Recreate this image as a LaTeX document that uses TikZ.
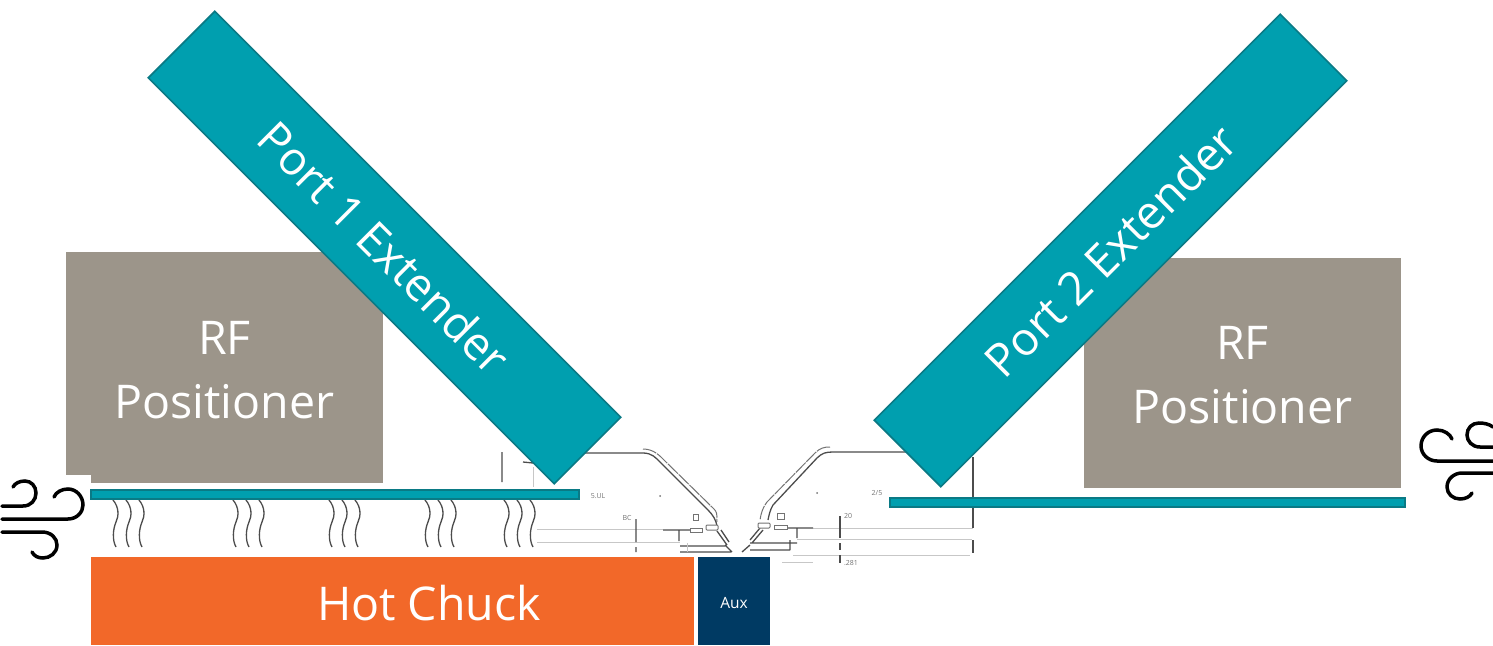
\documentclass[tikz,border=0pt]{standalone}
\usepackage{fontspec}
\setmainfont{Open Sans}
\definecolor{teal1}{HTML}{009FAF}
\definecolor{teal2}{HTML}{0A7A85}
\definecolor{stone}{HTML}{9C958A}
\definecolor{hot}{HTML}{F26829}
\definecolor{navy1}{HTML}{003A63}
\tikzset{
  extender/.style={draw=teal2,line width=1.6pt,fill=teal1,text=white,inner sep=0pt,minimum height=94pt,minimum width=574pt,font=\fontsize{46}{50}\selectfont},
  positioner/.style={fill=stone,inner sep=0pt},
  positionertext/.style={text=white,inner sep=0pt,align=center,font=\fontsize{46.5}{64}\selectfont},
  bar/.style={draw=teal2,line width=2pt,fill=teal1},
  windline/.style={line width=3.5pt,line cap=round,black},
  heat/.style={line width=1.3pt,black!70},
  dark/.style={line width=1.3pt,black!70},
  thin/.style={line width=.9pt,black!22},
  mid/.style={line width=1pt,black!55},
  tiny/.style={font=\fontsize{7}{8}\selectfont,text=black!55,inner sep=0pt}
}
\begin{document}
\begin{tikzpicture}[x=1pt,y=-1pt]
\useasboundingbox (0,0) rectangle (1493,645);
% left probe drawing
\draw[thin] (537,529) -- (663,529) (537,542) -- (680,542);
\draw[dark] (583,453) -- (643,453) .. controls (652,453) and (656,458) .. (660,462) -- (708,510) .. controls (713,515) and (716,520) .. (717,526);
\draw[mid,dash pattern=on 14pt off 1pt] (643,449) .. controls (654,449) and (660,456) .. (665,461) -- (714,509) .. controls (719,514) and (716,520) .. (717,522);
\draw[dark] (663,530) -- (690,530) (679,530) -- (679,541) (680,546) -- (725,546) (680,552) -- (731,552) (717,531) -- (727,545) (721,530) -- (729,542) (725,545) -- (732,552);
\draw[mid,fill=white,rounded corners=1pt] (706,525) rectangle (718,530);
\draw[mid,fill=white] (690,528) rectangle (702,532) (693,514) rectangle (698,520);
\draw[dark] (636,519) -- (636,542) (636,547) -- (636,552) (502,452) -- (502,482) (523,462) -- (533,463);
\draw[thin] (533,467) -- (533,487) (687,543) -- (687,552);
\node[tiny] (lblb) at (598,496) {5.UL};
\node[tiny] (lblc) at (627,518) {BC};
\fill[black!55] (660,496) circle (1pt) (817,493) circle (1pt);
% right probe drawing
\draw[thin] (813,528) -- (973,528) (797,539) -- (972,539) (793,555) -- (970,555) (782,562) -- (813,562);
\draw[dark] (907,452) -- (833,452) .. controls (826,452) and (822,453) .. (817,458) -- (773,505) .. controls (770,510) and (769,515) .. (768,520);
\draw[mid,dash pattern=on 14pt off 1pt] (830,447) .. controls (824,447) and (820,448) .. (815,453) -- (767,502) .. controls (763,507) and (761,513) .. (760,520);
\draw[dark] (787,528) -- (813,528) (797,528) -- (797,538) (750,543) -- (797,543) (750,550) -- (790,550) (750,540) -- (760,528) (790,540) -- (790,550) (742,552) -- (750,545) (752,543) -- (763,530);
\draw[mid,fill=white,rounded corners=1pt] (758,523) rectangle (770,528);
\draw[mid,fill=white] (774,525) rectangle (787,529) (777,513) rectangle (784,519);
\draw[dark] (973,457) -- (973,528) (973,540) -- (973,553) (840,516) -- (840,538) (840,543) -- (840,550) (840,555) -- (840,563);
\node[tiny] (lbld) at (877,493) {2/5};
\node[tiny] (lble) at (848,516) {20};
\node[tiny] (lblf) at (851,563) {.281};
% heat
\foreach \gx in {113,233,329,425,504}{
  \foreach \dx in {0,13,26}{
    \draw[heat,xshift=\gx pt+\dx pt] (0,500) .. controls (6,507) and (6,516) .. (3,522) .. controls (0,529) and (-1,540) .. (3,547);
  }
}
% blocks
\node[positioner,minimum width=317pt,minimum height=231pt] (posl) at (224.5,367.5) {};
\node[positioner,minimum width=317pt,minimum height=230pt] (posr) at (1242.5,373) {};
\node[positionertext] (posltext) at (224.5,370.5) {RF\\Positioner};
\node[positionertext] (posrtext) at (1242.5,375.5) {RF\\Positioner};
\fill[white] (0,475) rectangle (91,557);
\node[bar,minimum width=488pt,minimum height=9pt,inner sep=0pt] (barl) at (335,494) {};
\node[bar,minimum width=515pt,minimum height=9pt,inner sep=0pt] (barr) at (1147.5,502) {};
\node[extender,rotate=-45] (ext1) at (384.5,247.5) {Port 1 Extender};
\node[extender,rotate=45] (ext2) at (1110.5,250.5) {Port 2 Extender};
\node[fill=hot,inner sep=0pt,minimum width=603pt,minimum height=88pt] (chuck) at (392.5,601) {};
\node[text=white,inner sep=0pt,font=\fontsize{46.5}{50}\selectfont] (chucklabel) at (429,603) {Hot Chuck};
\node[fill=navy1,inner sep=0pt,minimum width=72pt,minimum height=88pt] (aux) at (734,601) {};
\node[text=white,inner sep=0pt,font=\fontsize{15.5}{17}\selectfont] (auxlabel) at (734,603) {Aux};
% wind left
\draw[windline] (2,506) -- (23,506) .. controls (31,506) and (36,500) .. (36,493) .. controls (36,486) and (31,481) .. (25,481) .. controls (20,481) and (15,483) .. (13,487);
\draw[windline] (2,519) -- (68,519) .. controls (77,519) and (83,512) .. (83,505) .. controls (83,496) and (76,489) .. (68,489) .. controls (62,489) and (56,492) .. (54,497);
\draw[windline] (2,532) -- (42,532) .. controls (51,532) and (57,538) .. (57,545) .. controls (57,553) and (50,558) .. (43,558) .. controls (38,558) and (34,556) .. (32,552);
% wind right
\draw[windline] (1493,447) -- (1480,447) .. controls (1472,447) and (1467,441) .. (1467,435) .. controls (1467,428) and (1472,423) .. (1479,423) .. controls (1484,423) and (1489,424) .. (1493,427);
\draw[windline] (1493,461) -- (1437,461) .. controls (1428,461) and (1421,454) .. (1421,446) .. controls (1421,437) and (1428,430) .. (1437,430) .. controls (1444,430) and (1450,434) .. (1452,439);
\draw[windline] (1493,473) -- (1462,473) .. controls (1454,473) and (1447,479) .. (1447,487) .. controls (1447,494) and (1453,499) .. (1460,499) .. controls (1465,499) and (1470,497) .. (1472,493);
\end{tikzpicture}
\end{document}
